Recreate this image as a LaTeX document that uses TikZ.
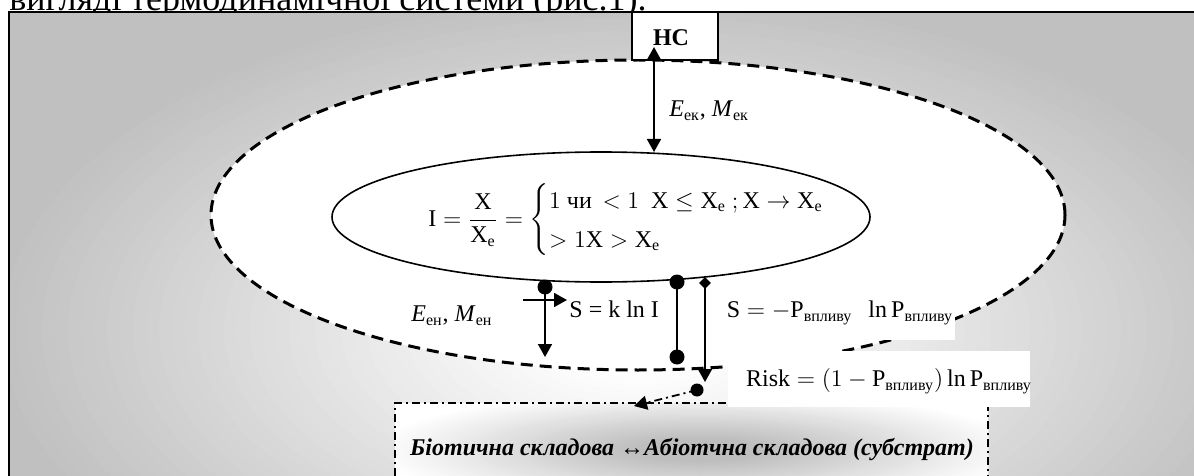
\documentclass[tikz,border=0pt]{standalone}
\usepackage{amsmath}
\usepackage{fontspec}
\setmainfont{Liberation Serif}
\usetikzlibrary{arrows.meta,shapes.geometric}
\definecolor{bggray}{RGB}{192,192,192}
\definecolor{boxgray}{RGB}{190,190,190}
\begin{document}
\begin{tikzpicture}[x=0.5pt,y=-0.5pt,
  fnt/.style={font=\fontsize{12}{14.4}\selectfont, inner sep=0pt},
  arr/.style={-{Triangle[length=6.5pt,width=7pt]}, line width=0.9pt},
  dblarr/.style={{Triangle[length=6.5pt,width=7pt]}-{Triangle[length=6.5pt,width=7pt]}, line width=0.9pt},
  dotmark/.style={circle, fill=black, inner sep=0pt, minimum size=7.5pt},
  dashdotline/.style={line width=1pt, dash pattern=on 4pt off 2pt on 1pt off 2pt},
  whitebox/.style={fill=white, inner sep=0pt, outer sep=0pt}
]
\useasboundingbox (0,0) rectangle (1194,476);
\clip (0,0) rectangle (1194,476);
% caption line above (cut off at the top edge, as in the reference)
\node[anchor=base east, inner sep=0, font=\fontsize{18}{20}\selectfont] (cap) at (647,11) {вигляді термодинамічної системи (рис.1).};
% frame with gradient (concentric steps)
\fill[bggray] (9,12) rectangle (1220,500);
\begin{scope}
  \clip (9,12) rectangle (1220,500);
  \foreach \i in {50,49,...,1}{
    \pgfmathsetmacro\g{max(0,min(100,(\i/50-0.12)/0.88*100))}
    \fill[bggray!\g!white] (640,330) ellipse [x radius={\i/50*325pt}, y radius={\i/50*170pt}];
  }
\end{scope}
\draw[line width=1.2pt] (1220,12) -- (9,12) -- (9,500);
% outer dashed ellipse
\node[ellipse, draw, fill=white, line width=1.5pt, dash pattern=on 6pt off 3.5pt,
      minimum width=427pt, minimum height=155pt, inner sep=0pt, outer sep=0pt] (outer) at (638,215) {};
% HC box
\node[draw, fill=white, line width=1pt, minimum width=43pt, minimum height=24pt, inner sep=0pt] (hc) at (675,36) {};
\node[inner sep=0pt, font=\bfseries\fontsize{12}{14}\selectfont] (hct) at (671,38) {НС};
% inner ellipse
\node[ellipse, draw, line width=0.8pt, minimum width=269pt, minimum height=65pt, inner sep=0pt] (inner) at (601,217) {};
\node[fnt, anchor=west] (eqI) at (428,220) {\renewcommand{\arraystretch}{1.35}$\mathrm{I}=\dfrac{\mathrm{X}}{\mathrm{X}_{\mathrm{e}}}=\left\{\begin{array}{@{}l@{}}1\ \text{чи}\,<1\ \ \mathrm{X}\le\mathrm{X}_{\mathrm{e}}\ ;\mathrm{X}\to\mathrm{X}_{\mathrm{e}}\\ >1\mathrm{X}>\mathrm{X}_{\mathrm{e}}\end{array}\right.$};
% arrow HC <-> inner
\coordinate (ek1) at (654,47);
\coordinate (ek2) at (654,152);
\draw[dblarr] (ek2) -- (ek1);
\node[fnt, anchor=west] (lek) at (669,111) {\textit{E}\textsubscript{ек}, \textit{M}\textsubscript{ек}};
% bottom box with its inner gradient
\fill[white] (395,403) rectangle (988,520);
\begin{scope}
  \clip (395,403) rectangle (988,520);
  \foreach \i in {40,39,...,1}{
    \pgfmathsetmacro\g{max(0,min(100,(1-\i/40)/0.8*100))}
    \fill[boxgray!\g!white] (700,450) ellipse [x radius={\i/40*165pt}, y radius={\i/40*30pt}];
  }
\end{scope}
\node[draw, dashdotline, minimum width=296.5pt, minimum height=58.5pt, inner sep=0pt] (bio) at (691.5,461.5) {};
\node[inner sep=0pt, font=\bfseries\itshape\fontsize{12}{14}\selectfont] (biot) at (692,449) {Біотична складова ↔Абіотчна складова (субстрат)};
% connectors below inner ellipse
\node[dotmark] (d1) at (545,287) {};
\coordinate (t1) at (545,357);
\draw[arr] (d1.center) -- (t1);
\coordinate (h1) at (523,300);
\coordinate (h2) at (567,300);
\draw[arr] (h1) -- (h2);
\node[fnt, anchor=west] (skl) at (569,309) {S = k ln I};
\node[fnt, anchor=west] (len) at (411,316) {\textit{E}\textsubscript{ен}, \textit{M}\textsubscript{ен}};
\node[dotmark] (d2) at (677,282) {};
\node[dotmark] (d3) at (677,357) {};
\draw[line width=0.9pt] (d2.center) -- (d3.center);
\node[diamond, fill=black, inner sep=0pt, minimum size=6pt] (dm) at (705,283) {};
\coordinate (t3) at (705,382);
\draw[arr] (dm.center) -- (t3);
\node[dotmark, minimum size=6.5pt] (d4) at (697,390) {};
\coordinate (t4) at (634,406);
\draw[arr, dash pattern=on 4pt off 2pt on 1pt off 2pt] (d4.center) -- (t4);
% formula boxes
\node[whitebox, minimum width=115pt, minimum height=27.5pt] (sbox) at (840,312.5) {};
\node[fnt] (sform) at (840,313) {$\mathrm{S}=-\mathrm{P}_{\text{впливу}}\ \ \ln\mathrm{P}_{\text{впливу}}$};
\node[whitebox, minimum width=151pt, minimum height=28pt] (rbox) at (879,379) {};
\node[fnt] (rform) at (889,381) {$\mathrm{Risk}=\left(1-\mathrm{P}_{\text{впливу}}\right)\ln\mathrm{P}_{\text{впливу}}$};
\end{tikzpicture}
\end{document}
